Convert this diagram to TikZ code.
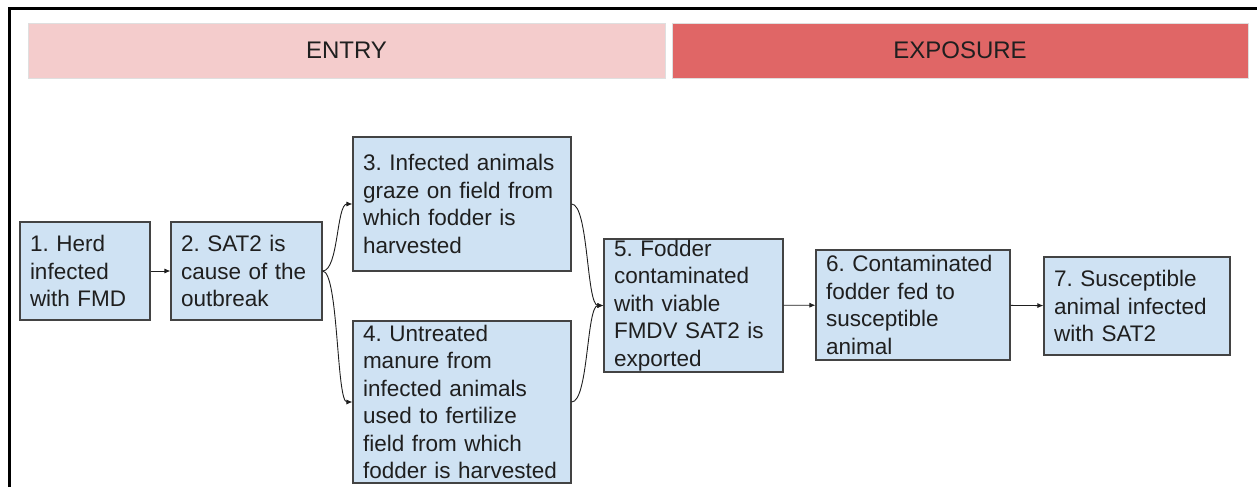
\documentclass[tikz,border=0pt]{standalone}
\usepackage{fontspec}
\setmainfont{Liberation Sans}
\usepackage{tikz}
\usetikzlibrary{arrows.meta, positioning}
\definecolor{entrypink}{HTML}{F4CCCC}
\definecolor{exposurered}{HTML}{E06666}
\definecolor{boxblue}{HTML}{CFE2F3}
\definecolor{boxline}{HTML}{434343}
\definecolor{inktext}{HTML}{1F1F1F}
\frenchspacing

\begin{document}
\begin{tikzpicture}[x=1pt, y=-1pt,
    stepbox/.style={rectangle, draw=boxline, line width=1.1pt, fill=boxblue, text=inktext,
        align=left, inner xsep=10pt, inner ysep=0pt,
        font=\fontsize{22.5}{27.4}\selectfont},
    banner/.style={rectangle, draw=gray!25, line width=0.8pt, text=inktext,
        minimum height=55pt, inner sep=0pt, font=\fontsize{24}{28}\selectfont},
    flow/.style={-{Latex[length=6pt,width=5pt]}, line width=0.9pt, draw=inktext}]
    \useasboundingbox (0,0) rectangle (1257,487);

    % Frame
    \draw[line width=2.6pt, black] (9.5,487) -- (9.5,8.5) -- (1257,8.5);

    % Stages
    \node[banner, fill=entrypink, minimum width=637pt] (entry) at (346.5,50.5) {ENTRY};
    \node[banner, fill=exposurered, minimum width=576pt] (exposure) at (960,50.5) {EXPOSURE};

    % Steps
    \node[stepbox, text width=110pt, minimum height=98pt] (n1) at (85,271)
        {1. Herd\\infected\\with FMD};
    \node[stepbox, text width=131pt, minimum height=98pt] (n2) at (246.5,271)
        {2. SAT2 is\\cause of the\\outbreak};
    \node[stepbox, text width=198pt, minimum height=134pt] (n3) at (462,204)
        {3. Infected animals\\graze on field from\\which fodder is\\harvested};
    \node[stepbox, text width=198pt, minimum height=162pt] (n4) at (462,402)
        {4. Untreated\\manure from\\infected animals\\used to fertilize\\field from which\\fodder is harvested};
    \node[stepbox, text width=159pt, minimum height=133pt] (n5) at (693.5,305.5)
        {5. Fodder\\contaminated\\with viable\\FMDV SAT2 is\\exported};
    \node[stepbox, text width=174pt, minimum height=110pt] (n6) at (913,305)
        {6. Contaminated\\fodder fed to\\susceptible\\animal};
    \node[stepbox, text width=166pt, minimum height=98pt] (n7) at (1137,306)
        {7. Susceptible\\animal infected\\with SAT2};

    % Connections
    \draw[flow] (n1) -- (n2);
    \draw[flow] (n2.east) .. controls +(16,0) and +(-16,0) .. (n3.west);
    \draw[flow] (n2.east) .. controls +(16,0) and +(-16,0) .. (n4.west);
    \draw[flow] (n3.east) .. controls +(17,0) and +(-17,0) .. (n5.west);
    \draw[flow] (n4.east) .. controls +(17,0) and +(-17,0) .. (n5.west);
    \draw[flow] (n5) -- (n6);
    \draw[flow] (n6) -- (n7);
\end{tikzpicture}
\end{document}
